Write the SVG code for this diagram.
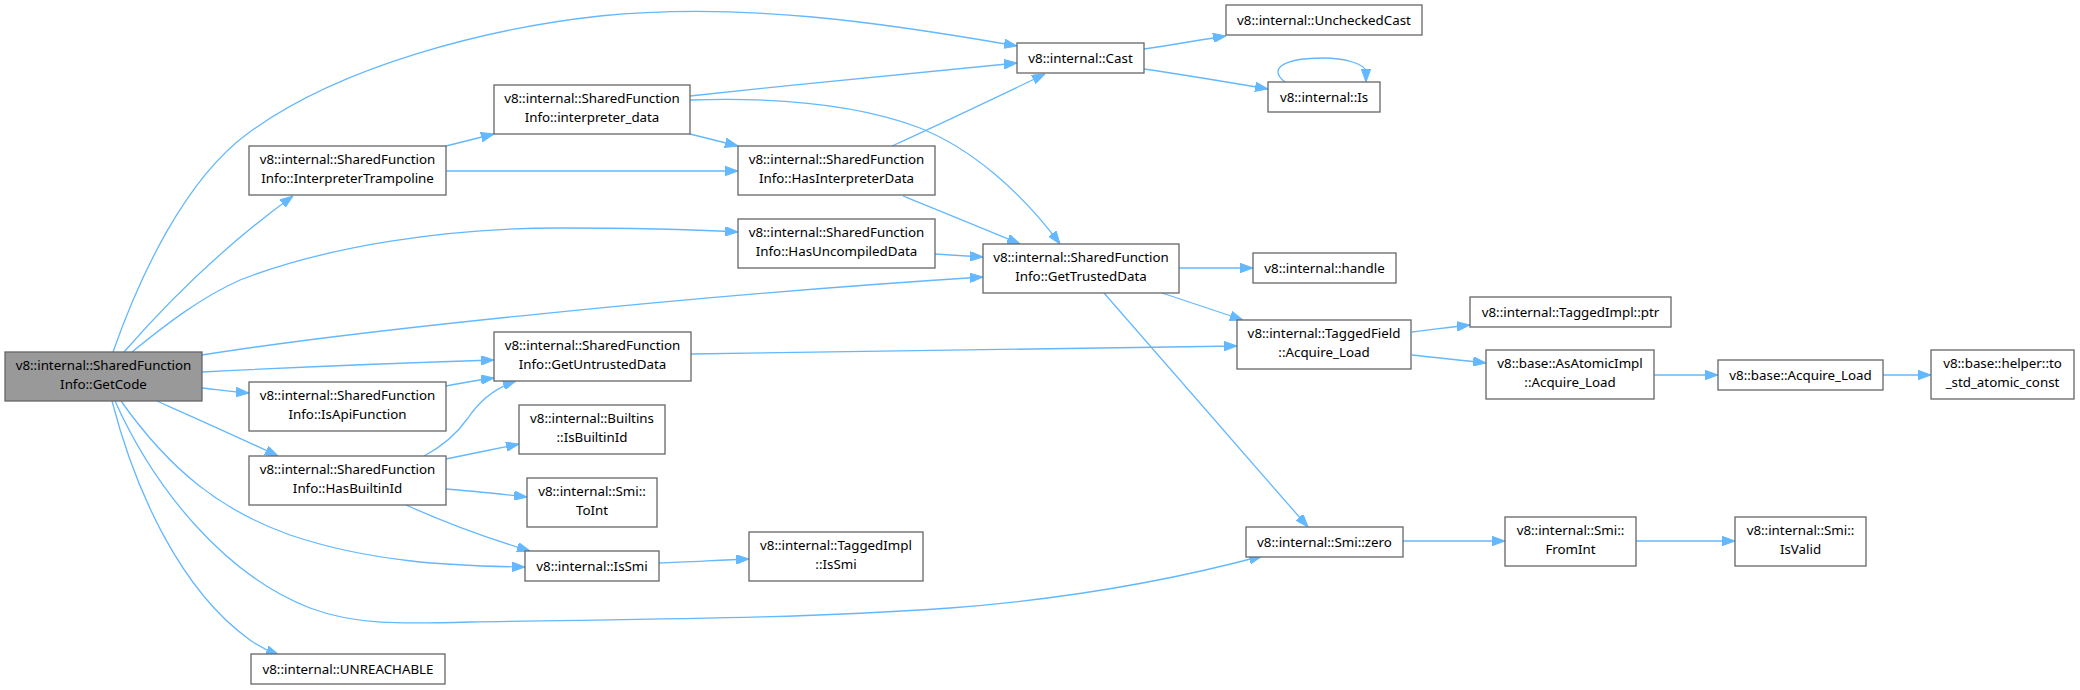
<svg xmlns="http://www.w3.org/2000/svg" width="2080" height="690" viewBox="0 0 2080 690">
<style>
.n rect{fill:#ffffff;stroke:#666666;stroke-width:1.3}
.n.f rect{fill:#999999}
.n text{font-family:"Noto Sans","DejaVu Sans",sans-serif;font-size:13.33px;fill:#000000;text-anchor:middle}
.e path{fill:none;stroke:#63b8ff;stroke-width:1.3;marker-end:url(#ah)}
</style>
<defs>
<marker id="ah" viewBox="0 0 13 9.5" refX="13" refY="4.75" markerWidth="13" markerHeight="9.5" orient="auto" markerUnits="userSpaceOnUse">
<path d="M0,0 L13,4.75 L0,9.5 z" fill="#63b8ff" stroke="#63b8ff" stroke-width="1"/>
</marker>
</defs>
<rect width="2080" height="690" fill="#ffffff"/>
<g class="e" id="edges">
<path d="M113,352 C140,275 185,180 247,134 C340,65 490,28 600,16 C740,2 880,22 1017,46"/>
<path d="M124,352 C165,305 225,245 293,196"/>
<path d="M132,352 C165,325 200,298 240,280 C330,245 450,228 560,228 C640,228 700,230 738,232"/>
<path d="M202,355 C360,330 700,295 983,277"/>
<path d="M202,372 C300,367 400,363 494,360"/>
<path d="M202,388 C220,390 235,392 249,393"/>
<path d="M157,401 C195,418 240,438 278,456"/>
<path d="M121,401 C170,470 220,510 290,535 C370,562 450,566 525,567"/>
<path d="M115,401 C155,490 225,575 310,608 C355,625 400,624 470,622 C620,619 780,620 950,608 C1080,598 1180,578 1262,556"/>
<path d="M112,401 C135,490 180,590 250,640 C260,647 268,651 279,655"/>
<path d="M446,146 C462,142 478,138 494,134"/>
<path d="M446,171 L738,171"/>
<path d="M690,96 C800,84 920,72 1017,63"/>
<path d="M690,100 C780,97 860,105 920,128 C970,148 1020,190 1060,244"/>
<path d="M690,134 C706,138 722,142 738,146"/>
<path d="M892,146 C940,124 995,98 1045,74"/>
<path d="M903,196 C940,211 982,228 1020,244"/>
<path d="M935,254 C950,255 966,256 983,257"/>
<path d="M424,456 C445,445 458,432 468,418 C480,400 495,388 516,381"/>
<path d="M446,386 C462,383 478,380 494,378"/>
<path d="M446,459 C470,454 495,449 519,444"/>
<path d="M446,489 C473,491 500,494 527,497"/>
<path d="M406,505 C446,523 490,539 530,551"/>
<path d="M659,563 C690,562 720,560 749,559"/>
<path d="M691,354 C900,350 1100,347 1237,346"/>
<path d="M1144,49 C1172,45 1199,40 1226,36"/>
<path d="M1144,69 C1185,75 1227,82 1268,89"/>
<path d="M1285,82 C1266,67 1288,58 1323,58 C1346,58 1362,64 1366,70 L1366,82"/>
<path d="M1179,268 L1253,268"/>
<path d="M1162,293 C1189,302 1216,311 1243,320"/>
<path d="M1104,293 C1172,371 1240,449 1308,527"/>
<path d="M1412,332 C1431,330 1450,327 1470,325"/>
<path d="M1412,355 C1437,358 1461,360 1486,363"/>
<path d="M1654,375 L1718,375"/>
<path d="M1883,375 L1931,375"/>
<path d="M1403,541 L1505,541"/>
<path d="M1636,541 L1735,541"/>
</g>
<g class="n f" id="GetCode"><rect x="5" y="352" width="197" height="49"/><text x="103.5" y="370">v8::internal::SharedFunction</text><text x="103.5" y="389">Info::GetCode</text></g>
<g class="n" id="InterpreterTrampoline"><rect x="249" y="146" width="197" height="49"/><text x="347.5" y="164">v8::internal::SharedFunction</text><text x="347.5" y="183">Info::InterpreterTrampoline</text></g>
<g class="n" id="IsApiFunction"><rect x="249" y="382" width="197" height="49"/><text x="347.5" y="400">v8::internal::SharedFunction</text><text x="347.5" y="419">Info::IsApiFunction</text></g>
<g class="n" id="HasBuiltinId"><rect x="249" y="456" width="197" height="49"/><text x="347.5" y="474">v8::internal::SharedFunction</text><text x="347.5" y="493">Info::HasBuiltinId</text></g>
<g class="n" id="UNREACHABLE"><rect x="251" y="654" width="194" height="30"/><text x="348" y="673.5">v8::internal::UNREACHABLE</text></g>
<g class="n" id="interpreter_data"><rect x="494" y="85" width="196" height="49"/><text x="592" y="103">v8::internal::SharedFunction</text><text x="592" y="122">Info::interpreter_data</text></g>
<g class="n" id="GetUntrustedData"><rect x="494" y="332" width="197" height="49"/><text x="592.5" y="350">v8::internal::SharedFunction</text><text x="592.5" y="369">Info::GetUntrustedData</text></g>
<g class="n" id="IsBuiltinId"><rect x="519" y="405" width="146" height="49"/><text x="592" y="423">v8::internal::Builtins</text><text x="592" y="442">::IsBuiltinId</text></g>
<g class="n" id="ToInt"><rect x="527" y="478" width="130" height="49"/><text x="592" y="496">v8::internal::Smi::</text><text x="592" y="515">ToInt</text></g>
<g class="n" id="IsSmi"><rect x="525" y="551" width="134" height="30"/><text x="592" y="570.5">v8::internal::IsSmi</text></g>
<g class="n" id="HasInterpreterData"><rect x="738" y="146" width="197" height="49"/><text x="836.5" y="164">v8::internal::SharedFunction</text><text x="836.5" y="183">Info::HasInterpreterData</text></g>
<g class="n" id="HasUncompiledData"><rect x="738" y="219" width="197" height="49"/><text x="836.5" y="237">v8::internal::SharedFunction</text><text x="836.5" y="256">Info::HasUncompiledData</text></g>
<g class="n" id="TaggedImplIsSmi"><rect x="749" y="532" width="174" height="49"/><text x="836" y="550">v8::internal::TaggedImpl</text><text x="836" y="569">::IsSmi</text></g>
<g class="n" id="Cast"><rect x="1017" y="43" width="127" height="30"/><text x="1080.5" y="62.5">v8::internal::Cast</text></g>
<g class="n" id="GetTrustedData"><rect x="983" y="244" width="196" height="49"/><text x="1081" y="262">v8::internal::SharedFunction</text><text x="1081" y="281">Info::GetTrustedData</text></g>
<g class="n" id="UncheckedCast"><rect x="1226" y="5" width="196" height="30"/><text x="1324" y="24.5">v8::internal::UncheckedCast</text></g>
<g class="n" id="Is"><rect x="1268" y="82" width="112" height="30"/><text x="1324" y="101.5">v8::internal::Is</text></g>
<g class="n" id="handle"><rect x="1253" y="253" width="143" height="30"/><text x="1324.5" y="272.5">v8::internal::handle</text></g>
<g class="n" id="TaggedFieldAcquireLoad"><rect x="1237" y="320" width="174" height="49"/><text x="1324" y="338">v8::internal::TaggedField</text><text x="1324" y="357">::Acquire_Load</text></g>
<g class="n" id="SmiZero"><rect x="1246" y="527" width="157" height="30"/><text x="1324.5" y="546.5">v8::internal::Smi::zero</text></g>
<g class="n" id="TaggedImplPtr"><rect x="1470" y="297" width="201" height="30"/><text x="1570.5" y="316.5">v8::internal::TaggedImpl::ptr</text></g>
<g class="n" id="AsAtomicImpl"><rect x="1486" y="350" width="168" height="49"/><text x="1570" y="368">v8::base::AsAtomicImpl</text><text x="1570" y="387">::Acquire_Load</text></g>
<g class="n" id="FromInt"><rect x="1505" y="517" width="131" height="49"/><text x="1570.5" y="535">v8::internal::Smi::</text><text x="1570.5" y="554">FromInt</text></g>
<g class="n" id="BaseAcquireLoad"><rect x="1718" y="360" width="165" height="30"/><text x="1800.5" y="379.5">v8::base::Acquire_Load</text></g>
<g class="n" id="ToStdAtomicConst"><rect x="1931" y="350" width="143" height="49"/><text x="2002.5" y="368">v8::base::helper::to</text><text x="2002.5" y="387">_std_atomic_const</text></g>
<g class="n" id="IsValid"><rect x="1735" y="517" width="131" height="49"/><text x="1800.5" y="535">v8::internal::Smi::</text><text x="1800.5" y="554">IsValid</text></g>
</svg>
